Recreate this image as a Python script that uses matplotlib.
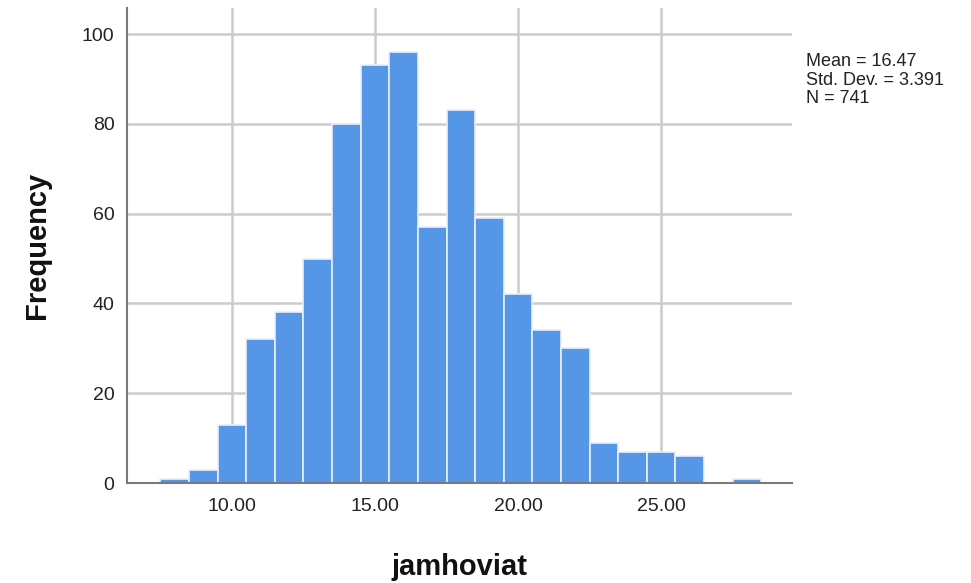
import matplotlib
matplotlib.use("Agg")
import matplotlib.pyplot as plt
import numpy as np

plt.rcParams['font.family'] = ['Liberation Sans', 'DejaVu Sans']

# Data: bin centers (width 1) and frequencies
bin_centers = [8, 9, 10, 11, 12, 13, 14, 15, 16, 17, 18, 19, 20, 21, 22, 23, 24, 25, 26, 27, 28]
frequencies = [1, 3, 13, 32, 38, 50, 80, 93, 96, 57, 83, 59, 42, 34, 30, 9, 7, 7, 6, 0, 1]
x_ticks = [10, 15, 20, 25]
x_tick_labels = ["10.00", "15.00", "20.00", "25.00"]
y_ticks = [0, 20, 40, 60, 80, 100]
stats_text = "Mean = 16.47\nStd. Dev. = 3.391\nN = 741"
x_label = "jamhoviat"
y_label = "Frequency"

fig = plt.figure(figsize=(9.71, 5.83), dpi=100)
ax = fig.add_axes([0.1308, 0.1715, 0.8157 - 0.1308, 0.9863 - 0.1715])

ax.bar(bin_centers, frequencies, width=1.0, color='#5596e6', edgecolor='#e8f0fb',
       linewidth=1.2, zorder=3)

ax.set_xlim(6.33, 29.58)
ax.set_ylim(0, 105.8)
ax.set_xticks(x_ticks)
ax.set_xticklabels(x_tick_labels)
ax.set_yticks(y_ticks)

ax.grid(True, color='#cccccc', linewidth=1.8, zorder=0)
ax.set_axisbelow(True)

for s in ['top', 'right']:
    ax.spines[s].set_visible(False)
for s in ['left', 'bottom']:
    ax.spines[s].set_color('#7a7a7a')
    ax.spines[s].set_linewidth(1.5)
    ax.spines[s].set_zorder(4)

ax.tick_params(axis='both', length=0, labelsize=14, colors='#222222')
ax.tick_params(axis='y', pad=9)
ax.tick_params(axis='x', pad=11)

ax.set_xlabel(x_label, fontsize=21, fontweight='bold', labelpad=27, color='#111111')
ax.set_ylabel(y_label, fontsize=21, fontweight='bold', labelpad=22, color='#111111')

fig.text(806 / 971, 1 - 53 / 583, stats_text, fontsize=13, va='top', ha='left',
         linespacing=1.12, color='#222222')

fig.savefig("out.png", dpi=100)
